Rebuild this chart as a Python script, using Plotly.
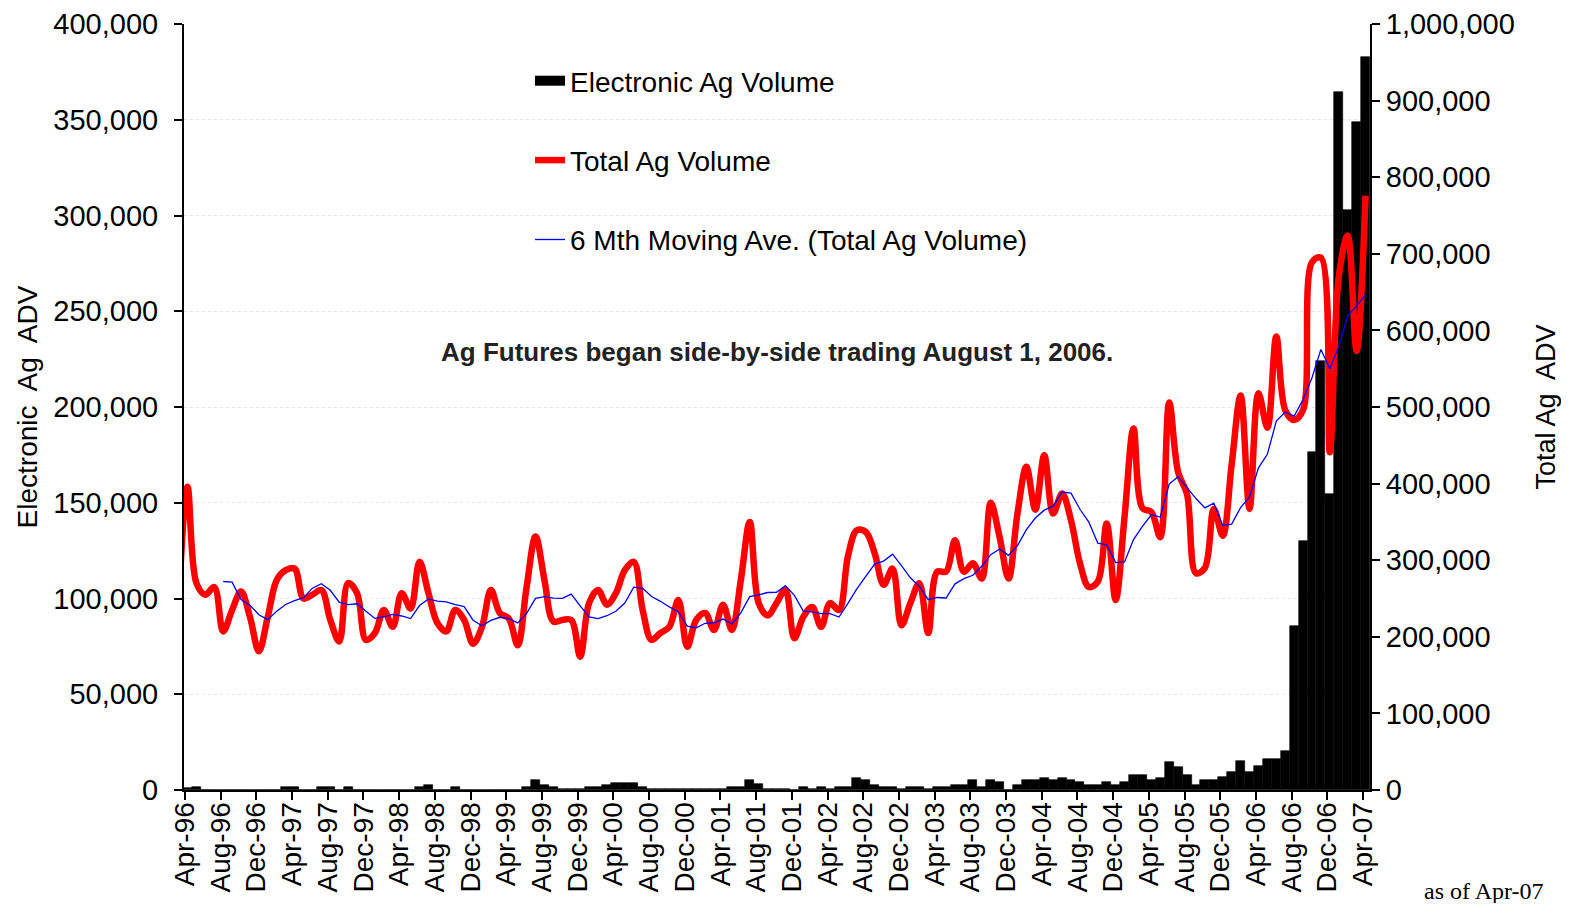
import pandas as pd
import plotly.graph_objects as go

# Months Mar-96 .. Apr-07 (Mar-96 lies just left of the plotted range)
months = pd.date_range("1996-03-01", "2007-04-01", freq="MS")
month_labels = [d.strftime("%b-%y") for d in months]

# Total Ag volume (ADV), thousands of contracts, Mar-96 .. Apr-07
total_k = [
    240,
    396, 270, 255, 265, 207, 235, 259, 226, 181, 226, 274, 287,   # Apr-96..Mar-97
    289, 250, 255, 261, 222, 194, 270, 257, 196, 205, 235, 213,   # Apr-97..Mar-98
    257, 237, 298, 257, 218, 207, 235, 222, 191, 213, 261, 231,   # Apr-98..Mar-99
    224, 189, 265, 331, 274, 220, 222, 222, 174, 244, 261, 242,   # Apr-99..Mar-00
    257, 287, 298, 235, 196, 205, 213, 248, 187, 222, 231, 209,   # Apr-00..Mar-01
    242, 209, 274, 350, 244, 228, 244, 261, 198, 226, 239, 213,   # Apr-01..Mar-02
    244, 235, 305, 339, 337, 309, 268, 289, 215, 244, 270, 205,   # Apr-02..Mar-03
    285, 285, 326, 285, 296, 276, 375, 330, 276, 361, 422, 366,   # Apr-03..Mar-04
    437, 361, 387, 352, 296, 265, 272, 348, 248, 357, 472, 368,   # Apr-04..Mar-05
    363, 330, 506, 415, 386, 283, 290, 367, 332, 425, 515, 367,   # Apr-05..Mar-06
    518, 473, 592, 496, 483, 496, 689, 695, 441, 670, 724, 573,   # Apr-06..Mar-07
    776,                                                          # Apr-07
]

# Electronic Ag volume (ADV), thousands of contracts, Mar-96 .. Apr-07
electronic_k = [
    1.0,
    1.0, 1.4, 0, 0, 0, 0, 0, 0, 0, 0, 0, 1.7,
    1.7, 0, 0, 1.7, 1.7, 0, 1.7, 0, 0, 0, 0, 0,
    0, 0, 1.4, 2.6, 0, 0, 1.7, 0, 0, 0, 0, 0,
    0, 0, 1.7, 5.2, 2.6, 1.4, 0.5, 0.5, 0.5, 1.7, 1.7, 2.5,
    3.5, 3.8, 3.8, 1.7, 0.3, 0.3, 0.3, 0.3, 0.3, 0.3, 0.3, 0.3,
    0.3, 1.7, 1.7, 5.2, 3.0, 0.3, 0.3, 0.3, 0, 1.4, 0.3, 1.4,
    0.3, 1.4, 1.4, 6.1, 5.2, 2.6, 1.4, 1.4, 0.3, 1.4, 1.4, 0.3,
    1.4, 1.4, 2.6, 2.6, 5.2, 1.4, 5.2, 4.0, 0, 2.6, 5.2, 5.2,
    6.1, 5.2, 6.1, 5.2, 4.0, 2.6, 2.6, 4.0, 2.6, 4.0, 7.8, 7.8,
    5.2, 6.4, 14.5, 12.0, 8.0, 2.8, 5.2, 5.2, 6.8, 9.4, 15.2, 9.4,
    12.5, 16.4, 16.4, 20.3, 85.6, 130.0, 176.5, 224.0, 154.6, 364.6, 302.8, 349.0,
    383.0,
]

total = [v * 1000 for v in total_k]
electronic = [v * 1000 for v in electronic_k]
moving_avg = pd.Series(total).rolling(6).mean().tolist()   # 6-month trendline

# month index: Apr-96 = 0
month_idx = list(range(-1, len(months) - 1))
tick_months = list(range(0, len(months) - 1, 4))
tick_text = [month_labels[i + 1] for i in tick_months]

FONT = "Liberation Sans, Arial, sans-serif"
OFF = 8                      # default body margin of the html page
W, H = 1569 - 2 * OFF, 911 - 2 * OFF   # keep page free of scrollbars
PL, PT, PR, PB = 184, 24, 1370, 790   # plot area in page pixels
L, T = PL - OFF, PT - OFF
R, B = (OFF + W) - PR, (OFF + H) - PB
PW, PH = PR - PL, PB - PT


def px(xp):
    return (xp - PL) / PW


def py(yp):
    return (PB - yp) / PH


fig = go.Figure()
fig.add_trace(go.Bar(
    x=month_idx, y=electronic, name="Electronic Ag Volume",
    marker=dict(color="black", line=dict(color="black", width=0.6)),
    yaxis="y", legendgroup="a", showlegend=False,
))
# legend key for the bars (wide black block, as in the original legend)
fig.add_trace(go.Scatter(
    x=[None], y=[None], name="Electronic Ag Volume", mode="lines",
    line=dict(color="black", width=14), yaxis="y", legendgroup="a",
))
fig.add_trace(go.Scatter(
    x=month_idx, y=total, name="Total Ag Volume", mode="lines",
    line=dict(color="#FF0000", width=6.5, shape="spline", smoothing=1.0),
    yaxis="y2", legendgroup="b",
))
fig.add_trace(go.Scatter(
    x=month_idx, y=moving_avg, name="6 Mth Moving Ave. (Total Ag Volume)",
    mode="lines", line=dict(color="#0000FF", width=1.3),
    yaxis="y2", legendgroup="c",
))

fig.update_layout(
    width=W, height=H,
    margin=dict(l=L, r=R, t=T, b=B, autoexpand=False),
    paper_bgcolor="white", plot_bgcolor="white",
    font=dict(family=FONT, size=28, color="black"),
    bargap=0,
    showlegend=True,
    legend=dict(
        x=px(530), y=py(56), xanchor="left", yanchor="top",
        bgcolor="rgba(255,255,255,0)", font=dict(size=28, family=FONT),
        tracegroupgap=40, traceorder="grouped",
    ),
    xaxis=dict(
        range=[-0.39, 132.5],
        tickmode="array",
        tickvals=[i - 0.28 for i in tick_months],
        ticktext=tick_text,
        tickangle=-90,
        tickfont=dict(size=28, family=FONT),
        ticks="outside", ticklen=8, tickwidth=2, tickcolor="black",
        ticklabelstandoff=-9,
        showline=True, linecolor="black", linewidth=2,
        showgrid=False, zeroline=False, automargin=False,
    ),
    yaxis=dict(
        range=[0, 400000], dtick=50000, tickformat=",",
        tickfont=dict(size=29, family=FONT),
        ticks="outside", ticklen=8, tickwidth=2, tickcolor="black",
        ticklabelstandoff=10,
        showline=True, linecolor="black", linewidth=2,
        showgrid=True, gridcolor="#e6e6e6", griddash="dot", gridwidth=1,
        zeroline=False, automargin=False,
        title=dict(text="Electronic  Ag  ADV", font=dict(size=28, family=FONT), standoff=8),
    ),
    yaxis2=dict(
        range=[0, 1000000], dtick=100000, tickformat=",",
        overlaying="y", side="right",
        tickfont=dict(size=29, family=FONT),
        ticks="outside", ticklen=8, tickwidth=2, tickcolor="black",
        showline=True, linecolor="black", linewidth=2,
        showgrid=False, zeroline=False, automargin=False,
        title=dict(text="Total Ag  ADV", font=dict(size=27, family=FONT), standoff=24),
    ),
    annotations=[
        dict(text="<b>Ag Futures began side-by-side trading August 1, 2006.</b>",
             x=px(777), y=py(352), xref="paper", yref="paper",
             xanchor="center", yanchor="middle", showarrow=False,
             font=dict(size=26, family=FONT, color="#222222")),
        dict(text="as of Apr-07",
             x=px(1484), y=py(891), xref="paper", yref="paper",
             xanchor="center", yanchor="middle", showarrow=False,
             font=dict(size=24, family="Liberation Serif, Times New Roman, serif")),
    ],
)

fig.write_html("out.html")
